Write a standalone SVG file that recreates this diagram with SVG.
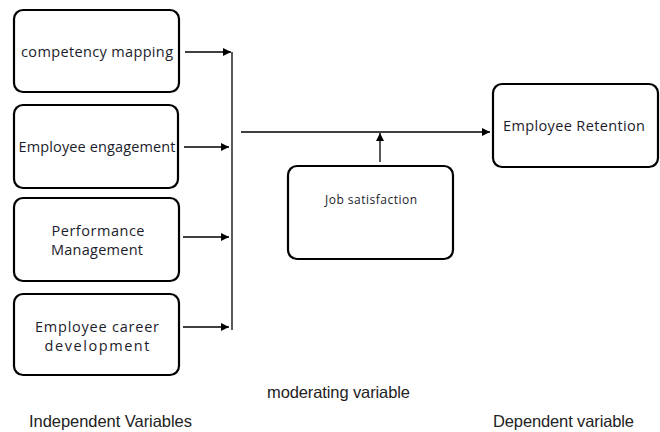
<svg xmlns="http://www.w3.org/2000/svg" width="660" height="432" viewBox="0 0 660 432">
<style>
.box{fill:#fff;stroke:#000;stroke-width:2.2}
.t{font-family:"Open Sans","Liberation Sans",sans-serif;font-size:14.5px;fill:#1c1c2c;text-anchor:middle}
.lab{font-family:"Liberation Sans",Arial,sans-serif;font-size:16.5px;fill:#222}
.ln{stroke:#000;stroke-width:1.3;fill:none}
</style>
<defs>
<marker id="ah" viewBox="0 0 10 10" refX="10" refY="5" markerWidth="8" markerHeight="8" markerUnits="userSpaceOnUse" orient="auto">
<path d="M0,0 L10,5 L0,10 z" fill="#000"/>
</marker>
</defs>
<rect width="660" height="432" fill="#fff"/>
<g id="n1"><rect class="box" x="14" y="10" width="165" height="82" rx="9"/><text class="t" x="97" y="57" textLength="152">competency mapping</text></g>
<g id="n2"><rect class="box" x="14" y="105" width="164" height="83" rx="9"/><text class="t" x="97" y="152" textLength="157">Employee engagement</text></g>
<g id="n3"><rect class="box" x="14" y="198" width="165" height="83" rx="9"/><text class="t" x="98" y="236" textLength="93">Performance</text><text class="t" x="97" y="255" textLength="92">Management</text></g>
<g id="n4"><rect class="box" x="14" y="294" width="165" height="81" rx="9"/><text class="t" x="97" y="332" textLength="124">Employee  career</text><text class="t" x="97" y="351" textLength="105">development</text></g>
<g id="n5"><rect class="box" x="493" y="84" width="165" height="83" rx="9"/><text class="t" x="574" y="131" textLength="142">Employee Retention</text></g>
<g id="n6"><rect class="box" x="288" y="166" width="165" height="93" rx="9"/><text class="t" x="371" y="204" style="font-size:12px" textLength="92">Job satisfaction</text></g>
<g id="connectors">
<line class="ln" x1="185" y1="52" x2="231" y2="52" marker-end="url(#ah)"/>
<line class="ln" x1="184" y1="147" x2="229" y2="147" marker-end="url(#ah)"/>
<line class="ln" x1="183" y1="237" x2="229" y2="237" marker-end="url(#ah)"/>
<line class="ln" x1="183" y1="327" x2="229" y2="327" marker-end="url(#ah)"/>
<line class="ln" x1="232" y1="52" x2="232" y2="330"/>
<line class="ln" x1="241" y1="132" x2="490" y2="132" marker-end="url(#ah)"/>
<line class="ln" x1="380" y1="162" x2="380" y2="133" marker-end="url(#ah)"/>
</g>
<text class="lab" x="267" y="398" textLength="143">moderating variable</text>
<text class="lab" x="29" y="427" textLength="163">Independent Variables</text>
<text class="lab" x="493" y="427" textLength="141">Dependent variable</text>
</svg>
